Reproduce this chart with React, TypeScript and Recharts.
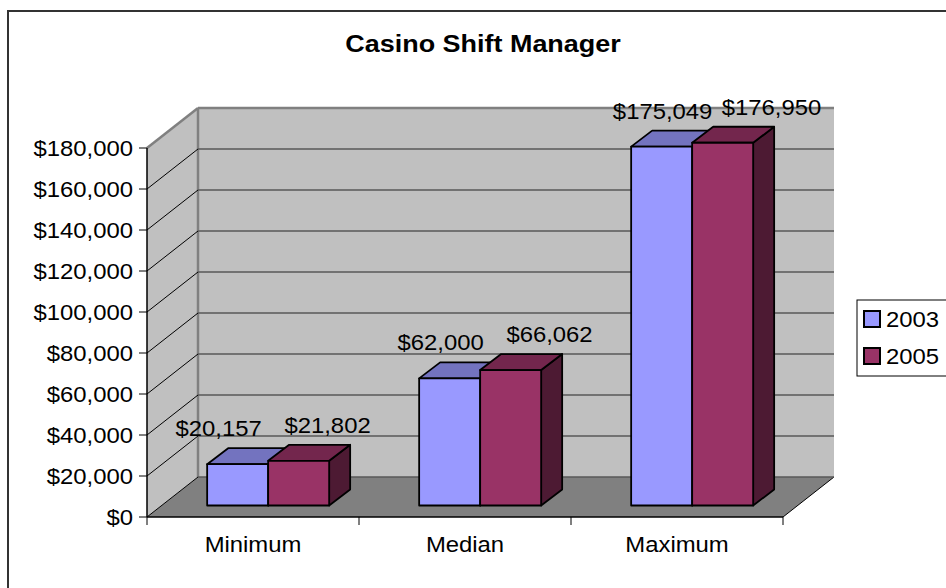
import React from "react";
import { BarChart, Bar, XAxis, YAxis, CartesianGrid, LabelList } from "recharts";

const categories = ["Minimum", "Median", "Maximum"];
const seriesNames = ["2003", "2005"];
const values2003 = [20157, 62000, 175049];
const values2005 = [21802, 66062, 176950];
const yTicks = [0, 20000, 40000, 60000, 80000, 100000, 120000, 140000, 160000, 180000];

const data = categories.map((name, i) => ({
  name,
  v2003: values2003[i],
  v2005: values2005[i],
}));

// layout
const W = 946;
const H = 588;
const PLOT_LEFT = 147;
const PLOT_RIGHT = 783;
const PLOT_TOP = 148;
const PLOT_BOTTOM = 517;
const WALL_DX = 51;
const WALL_DY = 40;
const BAR_SHIFT_X = 15;
const BAR_SHIFT_Y = 11.5;
const BAR_DX = 21;
const BAR_DY = 16;
const SX = 1.085; // the source picture is stretched sideways a little
const FONT = "'Liberation Sans', Arial, sans-serif";
const FS = 22;

const colors = {
  v2003: { front: "#9999FF", top: "#7373BF", side: "#5C5C99" },
  v2005: { front: "#993366", top: "#73264D", side: "#4D1A33" },
};

const money = (v: number) => "$" + v.toLocaleString("en-US");

function Txt({ x, y, children, anchor = "middle", bold = false, size = FS, dy, sx = SX }: any) {
  return (
    <g transform={`translate(${x},${y})`}>
      <text
        transform={`scale(${sx},1)`}
        textAnchor={anchor}
        dy={dy}
        fontFamily={FONT}
        fontSize={size}
        fontWeight={bold ? "bold" : "normal"}
        fill="#000"
      >
        {children}
      </text>
    </g>
  );
}

const makeShape = (c: { front: string; top: string; side: string }) => (props: any) => {
  const { x, y, width, height } = props;
  if (width == null || height == null) return <g />;
  const fx = x + BAR_SHIFT_X;
  const fy = y - BAR_SHIFT_Y;
  const top = `${fx},${fy} ${fx + width},${fy} ${fx + width + BAR_DX},${fy - BAR_DY} ${fx + BAR_DX},${fy - BAR_DY}`;
  const side = `${fx + width},${fy} ${fx + width + BAR_DX},${fy - BAR_DY} ${fx + width + BAR_DX},${fy + height - BAR_DY} ${fx + width},${fy + height}`;
  return (
    <g stroke="#000" strokeWidth={1.8} strokeLinejoin="round">
      <polygon points={side} fill={c.side} />
      <polygon points={top} fill={c.top} />
      <rect x={fx} y={fy} width={width} height={height} fill={c.front} />
    </g>
  );
};

const makeLabel = (base: number) => (props: any) => {
  const { x, y, width, value } = props;
  const cx = x + BAR_SHIFT_X + width / 2;
  const off = base + 0.047 * (cx - 450);
  return (
    <Txt x={cx + off} y={y - BAR_SHIFT_Y - 28}>
      {money(value)}
    </Txt>
  );
};

const gridLine = (p: any) => {
  const { x1, y1, x2 } = p;
  const isTop = y1 <= PLOT_TOP + 0.5;
  return (
    <g key={`gl-${y1}`}>
      <line
        x1={x1}
        y1={y1}
        x2={x1 + WALL_DX}
        y2={y1 - WALL_DY}
        stroke={isTop ? "#808080" : "#000"}
        strokeWidth={isTop ? 2.5 : 1}
      />
      <line
        x1={x1 + WALL_DX}
        y1={y1 - WALL_DY}
        x2={x2 + WALL_DX}
        y2={y1 - WALL_DY}
        stroke={isTop ? "#808080" : "#595959"}
        strokeWidth={isTop ? 2.5 : 1.5}
      />
    </g>
  );
};

const YTick = (p: any) => (
  <Txt x={p.x} y={p.y} anchor="end" dy="0.35em">
    {money(p.payload.value)}
  </Txt>
);

const XTick = (p: any) => {
  const band = (PLOT_RIGHT - PLOT_LEFT) / categories.length;
  const { x, y, index } = p;
  return (
    <g>
      {index === 0 && <line x1={x - band / 2} y1={y} x2={x - band / 2} y2={y + 8} stroke="#000" />}
      <line x1={x + band / 2} y1={y} x2={x + band / 2} y2={y + 8} stroke="#000" />
      <Txt x={x} y={y + 35}>
        {p.payload.value}
      </Txt>
    </g>
  );
};

function Background() {
  const legendColors = [colors.v2003.front, colors.v2005.front];
  return (
    <svg width={W} height={H} style={{ position: "absolute", left: 0, top: 0 }}>
      <rect x={0} y={0} width={W} height={H} fill="#fff" />
      <rect x={8} y={11} width={W + 20} height={H + 20} fill="#fff" stroke="#333" strokeWidth={2} />
      <Txt x={483} y={52} bold size={24.5} sx={1.1}>
        Casino Shift Manager
      </Txt>
      {/* left wall */}
      <polygon
        points={`${PLOT_LEFT},${PLOT_TOP} ${PLOT_LEFT + WALL_DX},${PLOT_TOP - WALL_DY} ${PLOT_LEFT + WALL_DX},${PLOT_BOTTOM - WALL_DY} ${PLOT_LEFT},${PLOT_BOTTOM}`}
        fill="#C0C0C0"
      />
      {/* back wall */}
      <rect
        x={PLOT_LEFT + WALL_DX}
        y={PLOT_TOP - WALL_DY}
        width={PLOT_RIGHT - PLOT_LEFT}
        height={PLOT_BOTTOM - PLOT_TOP}
        fill="#C0C0C0"
      />
      {/* floor */}
      <polygon
        points={`${PLOT_LEFT},${PLOT_BOTTOM} ${PLOT_RIGHT},${PLOT_BOTTOM} ${PLOT_RIGHT + WALL_DX},${PLOT_BOTTOM - WALL_DY} ${PLOT_LEFT + WALL_DX},${PLOT_BOTTOM - WALL_DY}`}
        fill="#808080"
      />
      <line
        x1={PLOT_RIGHT}
        y1={PLOT_BOTTOM}
        x2={PLOT_RIGHT + WALL_DX}
        y2={PLOT_BOTTOM - WALL_DY}
        stroke="#000"
      />
      <line
        x1={PLOT_LEFT + WALL_DX}
        y1={PLOT_TOP - WALL_DY}
        x2={PLOT_LEFT + WALL_DX}
        y2={PLOT_BOTTOM - WALL_DY}
        stroke="#808080"
        strokeWidth={2.5}
      />
      {/* legend */}
      <rect x={857} y={300} width={100} height={76} fill="#fff" stroke="#000" strokeWidth={1} />
      {seriesNames.map((s, i) => (
        <g key={s}>
          <rect x={864} y={311 + i * 37} width={16} height={16} fill={legendColors[i]} stroke="#000" strokeWidth={2} />
          <Txt x={886} y={327 + i * 37} anchor="start">
            {s}
          </Txt>
        </g>
      ))}
    </svg>
  );
}

export default function App() {
  return (
    <div style={{ position: "absolute", left: 0, top: 0, width: W, height: H, overflow: "hidden", background: "#fff" }}>
      <Background />
      <div style={{ position: "absolute", left: 0, top: 0 }}>
        <BarChart
          width={W}
          height={H}
          data={data}
          margin={{ top: PLOT_TOP, right: W - PLOT_RIGHT, bottom: 0, left: 0 }}
          barCategoryGap="21.3%"
          barGap={0}
          style={{ overflow: "visible" }}
        >
          <CartesianGrid vertical={false} horizontal={gridLine} />
          <XAxis
            dataKey="name"
            height={H - PLOT_BOTTOM}
            tickLine={false}
            tickSize={0}
            tickMargin={0}
            axisLine={{ stroke: "#000", strokeWidth: 1.5 }}
            tick={<XTick />}
            interval={0}
          />
          <YAxis
            domain={[0, 180000]}
            ticks={yTicks}
            interval={0}
            width={PLOT_LEFT}
            tickSize={8}
            tickMargin={6}
            axisLine={{ stroke: "#000", strokeWidth: 1.5 }}
            tickLine={{ stroke: "#000" }}
            tick={<YTick />}
          />
          <Bar dataKey="v2003" name={seriesNames[0]} isAnimationActive={false} shape={makeShape(colors.v2003)}>
            <LabelList dataKey="v2003" content={makeLabel(-9)} />
          </Bar>
          <Bar dataKey="v2005" name={seriesNames[1]} isAnimationActive={false} shape={makeShape(colors.v2005)}>
            <LabelList dataKey="v2005" content={makeLabel(36)} />
          </Bar>
        </BarChart>
      </div>
    </div>
  );
}
